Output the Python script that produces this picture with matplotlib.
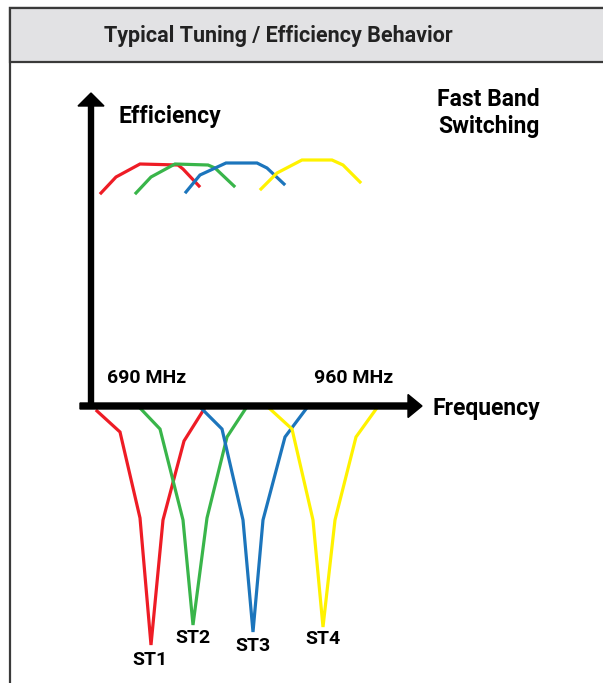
import matplotlib
matplotlib.use("Agg")
import matplotlib.pyplot as plt
from matplotlib.patches import Rectangle
from matplotlib import font_manager

plt.rcParams['font.family'] = ['Roboto', 'DejaVu Sans']

# ---- data (schematic, in picture units) ----
labels = ["ST1", "ST2", "ST3", "ST4"]
colors = ["#ee1c25", "#39b54a", "#1c75bc", "#fff200"]

eff_x = [
    [101, 116, 140, 178, 183, 199],
    [136, 151, 175, 208, 215, 234],
    [186, 200, 226, 257, 267, 284],
    [261, 277, 302, 332, 343, 360],
]
eff_y = [
    [193, 177, 164, 165, 169, 186],
    [193, 177, 164, 165, 168, 186],
    [192, 175, 163, 163, 168, 184],
    [189, 173, 160, 160, 165, 182],
]

tune_x = [
    [97, 120, 140, 151, 163, 184, 206],
    [140, 160, 183, 193, 207, 227, 248],
    [201, 222, 243, 253, 263, 285, 309],
    [269, 292, 313, 323, 335, 356, 379],
]
tune_y = [
    [411, 432, 518, 645, 520, 441, 406],
    [408, 429, 520, 625, 518, 437, 405],
    [408, 429, 520, 632, 520, 437, 405],
    [408, 429, 520, 627, 520, 437, 405],
]
label_pos = [(150, 660), (193, 638), (253, 646), (323, 639)]

names = {f.name for f in font_manager.fontManager.ttflist}
title_family = ['Liberation Sans Narrow', 'Roboto'] if 'Liberation Sans Narrow' in names else ['Roboto']
title_size = 17 if 'Liberation Sans Narrow' in names else 15.5

W, H = 603, 683
fig = plt.figure(figsize=(W / 100, H / 100), dpi=100)
ax = fig.add_axes([0, 0, 1, 1])
ax.set_xlim(0, W)
ax.set_ylim(H, 0)
ax.axis("off")

# frame and header
ax.add_patch(Rectangle((10, 8), 700, 800, facecolor="white", edgecolor="#3a3a3a", lw=1.6, zorder=0))
ax.add_patch(Rectangle((10, 8), 700, 54, facecolor="#e2e2e4", edgecolor="#3a3a3a", lw=1.6, zorder=1))
ax.text(278, 36, "Typical Tuning / Efficiency Behavior", ha="center", va="center",
        fontsize=title_size, fontweight="bold", color="#222222", zorder=2,
        family=title_family)

# curves
for i in range(4):
    ax.plot(eff_x[i], eff_y[i], color=colors[i], lw=2.3, solid_joinstyle="miter", zorder=3)
    ax.plot(tune_x[i], tune_y[i], color=colors[i], lw=2.3, solid_joinstyle="miter", zorder=3)
    ax.text(label_pos[i][0], label_pos[i][1], labels[i], ha="center", va="center",
            fontsize=14, fontweight="bold", color="black", zorder=4)

# axes arrows
ax.arrow(91, 408, 0, -315, width=5, head_width=26, head_length=13,
         length_includes_head=True, color="black", zorder=5)
ax.arrow(80, 406, 342, 0, width=6, head_width=23, head_length=14,
         length_includes_head=True, color="black", zorder=5)

# texts
ax.text(118, 117, "Efficiency", ha="left", va="center", fontsize=16.5, fontweight="bold")
ax.text(540, 100, "Fast Band", ha="right", va="center", fontsize=16.5, fontweight="bold")
ax.text(540, 127, "Switching", ha="right", va="center", fontsize=16.5, fontweight="bold")
ax.text(107, 378, "690 MHz", ha="left", va="center", fontsize=14, fontweight="bold")
ax.text(314, 378, "960 MHz", ha="left", va="center", fontsize=14, fontweight="bold")
ax.text(433, 408, "Frequency", ha="left", va="center", fontsize=16.5, fontweight="bold")

fig.savefig("out.png", dpi=100)
